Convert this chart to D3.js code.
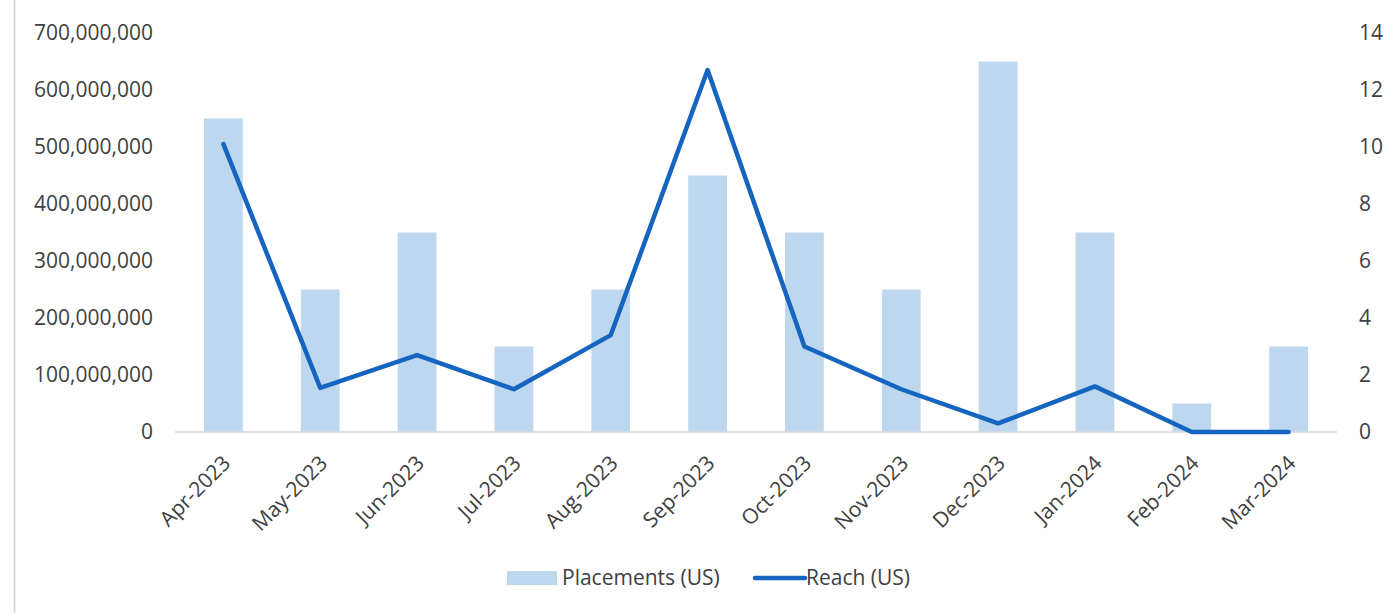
<!DOCTYPE html>
<html><head><meta charset="utf-8">
<script src="https://cdn.jsdelivr.net/npm/d3@7"></script>
<style>body{margin:0;background:#fff}svg{display:block}text{font-family:"Open Sans",sans-serif;fill:#404040}</style>
</head><body><svg id="c" width="1389" height="613"></svg>
<script>
const categories = ["Apr-2023","May-2023","Jun-2023","Jul-2023","Aug-2023","Sep-2023","Oct-2023","Nov-2023","Dec-2023","Jan-2024","Feb-2024","Mar-2024"];
const placements = [550000000,250000000,350000000,150000000,250000000,450000000,350000000,250000000,650000000,350000000,50000000,150000000];
const reach = [10.1,1.55,2.7,1.5,3.4,12.7,3.0,1.5,0.3,1.6,0,0];
const leftTicks = [0,100000000,200000000,300000000,400000000,500000000,600000000,700000000];
const rightTicks = [0,2,4,6,8,10,12,14];

const svg = d3.select("#c");
const x0 = 175, x1 = 1337, yTop = 33, yBot = 432;
const FS = "21px";
const x = d3.scaleBand().domain(categories).range([x0,x1]).paddingInner(0.6).paddingOuter(0.3);
const yL = d3.scaleLinear().domain([0,700000000]).range([yBot,yTop]);
const yR = d3.scaleLinear().domain([0,14]).range([yBot,yTop]);

svg.append("line").attr("x1",14.5).attr("x2",14.5).attr("y1",0).attr("y2",613).attr("stroke","#d0d0d0").attr("stroke-width",1.5);

svg.append("g").selectAll("rect").data(placements).join("rect")
  .attr("x",(d,i)=>x(categories[i])).attr("width",x.bandwidth())
  .attr("y",d=>yL(d)).attr("height",d=>yBot-yL(d)).attr("fill","#bdd7ee");

svg.append("line").attr("x1",x0).attr("x2",x1).attr("y1",yBot).attr("y2",yBot).attr("stroke","#d9d9d9").attr("stroke-width",1.5);

const fmt = d3.format(",");
const gL = svg.append("g").attr("transform",`translate(153,0)`).call(d3.axisLeft(yL).tickValues(leftTicks).tickFormat(fmt).tickSize(0).tickPadding(0));
gL.select(".domain").remove();
gL.selectAll("text").style("font-size",FS).attr("fill","#404040").style("font-family","'Open Sans',sans-serif");

const gR = svg.append("g").attr("transform",`translate(1359,0)`).call(d3.axisRight(yR).tickValues(rightTicks).tickSize(0).tickPadding(0));
gR.select(".domain").remove();
gR.selectAll("text").style("font-size",FS).attr("fill","#404040").style("font-family","'Open Sans',sans-serif");

const line = d3.line().x((d,i)=>x(categories[i])+x.bandwidth()/2).y(d=>yR(d));
svg.append("path").datum(reach).attr("d",line).attr("fill","none").attr("stroke","#1565c0").attr("stroke-width",4.5).attr("stroke-linejoin","round").attr("stroke-linecap","round");

const xc = d => x(d)+x.bandwidth()/2;
svg.append("g").selectAll("text").data(categories).join("text")
  .attr("transform",d=>`translate(${xc(d)-2},${yBot+22}) rotate(-45)`)
  .attr("text-anchor","end").attr("dy","0.7em").style("font-size",FS).text(d=>d);

const lg = svg.append("g");
lg.append("rect").attr("x",507).attr("y",571).attr("width",50).attr("height",14).attr("fill","#bdd7ee");
lg.append("text").attr("x",562).attr("y",578).attr("dy","0.35em").style("font-size",FS).text("Placements (US)");
lg.append("line").attr("x1",755).attr("x2",805).attr("y1",578).attr("y2",578).attr("stroke","#1565c0").attr("stroke-width",4.5).attr("stroke-linecap","round");
lg.append("text").attr("x",806).attr("y",578).attr("dy","0.35em").style("font-size",FS).text("Reach (US)");
</script></body></html>
